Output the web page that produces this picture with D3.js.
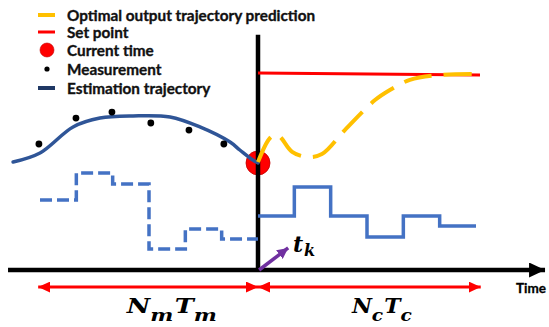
<!DOCTYPE html>
<html>
<head>
<meta charset="utf-8">
<script src="https://cdn.jsdelivr.net/npm/d3@7"></script>
<style>
  html, body { margin: 0; padding: 0; background: #fff; }
  svg { display: block; }
</style>
</head>
<body>
<svg id="chart" width="549" height="327"></svg>
<script>
// ---------- data ----------
const estimationT = [-6.74, -6.0, -5.09, -4.35, -3.44, -2.42, -1.6, -0.77, -0.5, -0.14, 0];
const estimationV = [4.5, 4.875, 5.96, 6.33, 6.42, 6.375, 5.96, 5.33, 5.0, 4.58, 4.46];

const measurementT = [-6.03, -5.01, -4.02, -2.95, -1.9, -0.94];
const measurementV = [5.25, 6.33, 6.58, 6.125, 5.83, 5.25];

const predictionT = [0, 0.33, 0.52, 0.64, 0.94, 1.35, 1.76, 2.39, 3.22, 3.63, 4.18, 5.01, 6.11];
const predictionV = [4.5, 5.5, 5.65, 5.5, 4.92, 4.71, 4.83, 5.83, 7.08, 7.5, 7.92, 8.125, 8.17];

const setPointT = [0, 6.11];
const setPointV = [8.21, 8.125];

const currentTime = 0;
const currentValue = 4.46;

const pastStepT = [-6, -5, -4, -3, -2, -1];
const pastInputs = [2.92, 4.04, 3.58, 0.875, 1.71, 1.29];
const futureStepT = [0, 1, 2, 3, 4, 5];
const futureInputs = [2.25, 3.46, 2.25, 1.375, 2.25, 1.83];
const stepEnd = [0, 6];

const timeAxisT = [-6.88, 7.9];
const valueAxisTop = 9.8;
const horizonLeft = [-6.05, 0];
const horizonRight = [0, 6.13];
const horizonLevel = -0.71;

const legendLabels = ["Optimal output trajectory prediction", "Set point", "Current time", "Measurement", "Estimation trajectory"];

// ---------- scales ----------
const svg = d3.select("#chart");
const x = d3.scaleLinear().domain([-6, 6]).range([40, 476]);
const y = d3.scaleLinear().domain([0, 10]).range([270, 30]);

const C = {
  yellow: "#FFC000", red: "#FF0000", navy: "#2F5597", navyLegend: "#1F3864",
  blue: "#4472C4", purple: "#7030A0", black: "#000"
};

const defs = svg.append("defs");
function marker(id, color, w, h) {
  defs.append("marker").attr("id", id)
    .attr("viewBox", `0 0 ${w} ${h}`).attr("refX", w).attr("refY", h / 2)
    .attr("markerWidth", w).attr("markerHeight", h)
    .attr("markerUnits", "userSpaceOnUse").attr("orient", "auto-start-reverse")
    .append("path").attr("d", `M0,0 L${w},${h / 2} L0,${h} Z`).attr("fill", color);
}
marker("arrRed", C.red, 12, 11);
marker("arrBlack", C.black, 16, 15);
marker("arrPurple", C.purple, 11, 11);

// current time circle (beneath lines)
svg.append("circle").attr("cx", x(currentTime)).attr("cy", y(currentValue)).attr("r", 12)
  .attr("fill", C.red).attr("stroke", "#C00000").attr("stroke-width", 0.8);

// value axis (vertical)
svg.append("line").attr("x1", x(0)).attr("x2", x(0)).attr("y1", y(valueAxisTop)).attr("y2", y(0))
  .attr("stroke", C.black).attr("stroke-width", 4.5);

// time axis (horizontal) with arrow
svg.append("line").attr("x1", x(timeAxisT[0])).attr("x2", x(timeAxisT[1])).attr("y1", y(0)).attr("y2", y(0))
  .attr("stroke", C.black).attr("stroke-width", 4.5).attr("marker-end", "url(#arrBlack)");

// set point
svg.append("path")
  .attr("d", d3.line().x(d => x(d[0])).y(d => y(d[1]))(d3.zip(setPointT, setPointV)))
  .attr("fill", "none").attr("stroke", C.red).attr("stroke-width", 3);

// past inputs (dashed step)
const stepLine = d3.line().x(d => x(d[0])).y(d => y(d[1])).curve(d3.curveStepAfter);
const pastData = d3.zip(pastStepT, pastInputs).concat([[stepEnd[0], pastInputs[pastInputs.length - 1]]]);
svg.append("path").attr("d", stepLine(pastData))
  .attr("fill", "none").attr("stroke", C.blue).attr("stroke-width", 3.5).attr("stroke-dasharray", "12,5");

// future inputs (solid step)
const futData = d3.zip(futureStepT, futureInputs).concat([[stepEnd[1], futureInputs[futureInputs.length - 1]]]);
svg.append("path").attr("d", stepLine(futData))
  .attr("fill", "none").attr("stroke", C.blue).attr("stroke-width", 3.5);

// estimation trajectory
svg.append("path")
  .attr("d", d3.line().x(d => x(d[0])).y(d => y(d[1])).curve(d3.curveCatmullRom)(d3.zip(estimationT, estimationV)))
  .attr("fill", "none").attr("stroke", C.navy).attr("stroke-width", 3.5).attr("stroke-linecap", "round");

// measurements
svg.selectAll("circle.meas").data(d3.zip(measurementT, measurementV)).join("circle")
  .attr("class", "meas").attr("cx", d => x(d[0])).attr("cy", d => y(d[1])).attr("r", 3.4).attr("fill", C.black);

// prediction
svg.append("path")
  .attr("d", d3.line().x(d => x(d[0])).y(d => y(d[1])).curve(d3.curveCatmullRom)(d3.zip(predictionT, predictionV)))
  .attr("fill", "none").attr("stroke", C.yellow).attr("stroke-width", 4).attr("stroke-dasharray", "28,12");

// t_k arrow
svg.append("line").attr("x1", x(0.03)).attr("y1", y(0)).attr("x2", x(0.83)).attr("y2", y(0.92))
  .attr("stroke", C.purple).attr("stroke-width", 3.5).attr("marker-end", "url(#arrPurple)");

const mathFont = "'DejaVu Serif', serif";
// t_k label
{
  const t = svg.append("text").attr("x", x(0.96)).attr("y", y(0.75))
    .attr("font-family", mathFont).attr("font-weight", "bold").attr("font-style", "italic")
    .attr("font-size", 22).attr("fill", C.black);
  t.append("tspan").text("t");
  t.append("tspan").attr("font-size", 16).attr("dy", 4).attr("dx", 1).text("k");
}

// horizon arrows
svg.append("line").attr("x1", x(horizonLeft[1])).attr("x2", x(horizonLeft[0])).attr("y1", y(horizonLevel)).attr("y2", y(horizonLevel))
  .attr("stroke", C.red).attr("stroke-width", 3).attr("marker-start", "url(#arrRed)").attr("marker-end", "url(#arrRed)");
svg.append("line").attr("x1", x(horizonRight[0])).attr("x2", x(horizonRight[1])).attr("y1", y(horizonLevel)).attr("y2", y(horizonLevel))
  .attr("stroke", C.red).attr("stroke-width", 3).attr("marker-start", "url(#arrRed)").attr("marker-end", "url(#arrRed)");

function horizonLabel(tx, a, b, width) {
  const t = svg.append("text").attr("x", x(tx) - width / 2).attr("y", y(-1.79))
    .attr("font-family", mathFont).attr("font-weight", "bold").attr("font-style", "italic")
    .attr("font-size", 20).attr("fill", C.black)
    .attr("textLength", width).attr("lengthAdjust", "spacingAndGlyphs");
  t.append("tspan").text("N");
  t.append("tspan").attr("font-size", 17).attr("dy", 8).text(a);
  t.append("tspan").attr("dy", -8).attr("dx", 1).text("T");
  t.append("tspan").attr("font-size", 17).attr("dy", 8).text(b);
}
horizonLabel(-2.37, "m", "m", 90);
horizonLabel(3.41, "c", "c", 60);

// Time label
svg.append("text").attr("x", x(7.1)).attr("y", y(-0.95)).attr("font-family", "Lato, sans-serif")
  .attr("font-weight", "bold").attr("font-size", 13.5).attr("fill", C.black)
  .attr("stroke", C.black).attr("stroke-width", 0.3).text("Time");

// legend
const lg = svg.append("g").attr("class", "legend");
const rowY = [15, 32, 50, 69, 88];
const lgFont = "Lato, 'Open Sans', sans-serif";
legendLabels.forEach((lab, i) => {
  const g = lg.append("g").attr("transform", `translate(0,${rowY[i]})`);
  if (i === 0) g.append("line").attr("x1", 38).attr("x2", 55).attr("stroke", C.yellow).attr("stroke-width", 4);
  if (i === 1) g.append("line").attr("x1", 38).attr("x2", 55).attr("stroke", C.red).attr("stroke-width", 3);
  if (i === 2) g.append("circle").attr("cx", 47).attr("r", 7).attr("fill", C.red).attr("stroke", "#C00000").attr("stroke-width", 0.6);
  if (i === 3) g.append("circle").attr("cx", 47).attr("r", 2.6).attr("fill", C.black);
  if (i === 4) g.append("line").attr("x1", 38).attr("x2", 55).attr("stroke", C.navyLegend).attr("stroke-width", 4);
  g.append("text").attr("x", 67).attr("dy", "0.36em").attr("font-family", lgFont)
    .attr("font-weight", "bold").attr("font-size", 15.3).attr("fill", "#111")
    .attr("stroke", "#111").attr("stroke-width", 0.35).text(lab);
});
</script>
</body>
</html>
